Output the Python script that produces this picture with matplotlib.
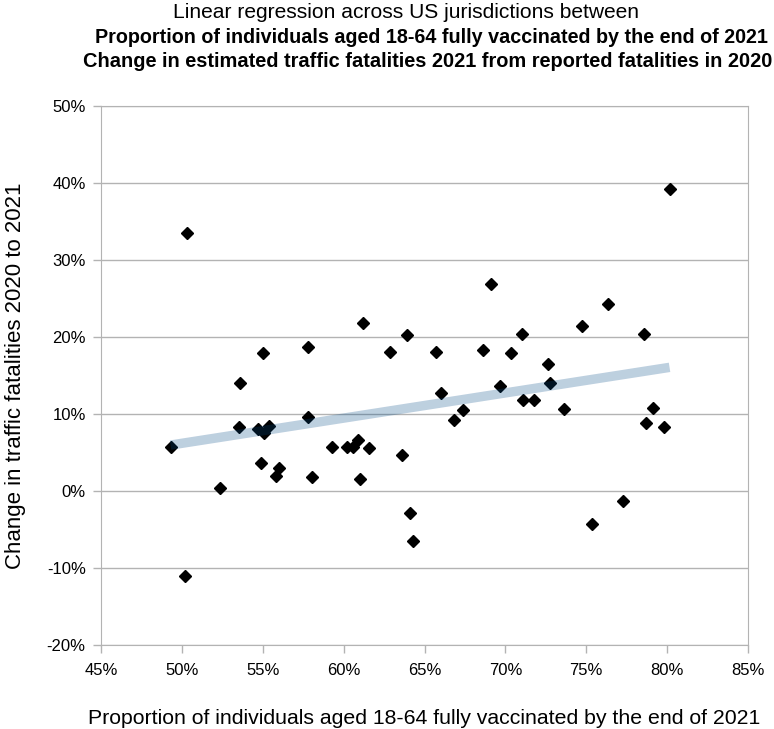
import numpy as np
import matplotlib
matplotlib.use('Agg')
import matplotlib.pyplot as plt
from matplotlib.ticker import PercentFormatter

plt.rcParams['font.family'] = ['Liberation Sans', 'DejaVu Sans']
plt.rcParams['axes.unicode_minus'] = False

# vaccinated share 18-64 (%) and change in traffic fatalities (%)
vax_pct = [49.3, 50.3, 50.2, 52.35, 53.6, 53.55, 54.7, 55.0, 55.05, 55.4,
           54.9, 55.8, 56.0, 57.8, 57.8, 58.05, 59.3, 60.2, 60.6, 60.9,
           61.55, 61.0, 61.2, 62.85, 63.9, 63.6, 64.1, 64.3, 65.7, 66.0,
           66.8, 67.4, 68.6, 69.1, 69.65, 70.35, 71.0, 71.1, 71.75, 72.65,
           72.75, 73.65, 74.75, 75.35, 76.35, 77.25, 78.6, 78.7, 79.1, 79.8,
           80.15]
fatal_change = [5.7, 33.6, -11.0, 0.4, 14.1, 8.3, 8.1, 17.9, 7.6, 8.5,
                3.7, 2.0, 3.0, 18.7, 9.7, 1.8, 5.8, 5.8, 5.7, 6.6,
                5.6, 1.6, 21.8, 18.1, 20.3, 4.7, -2.8, -6.4, 18.1, 12.8,
                9.3, 10.5, 18.3, 26.9, 13.7, 18.0, 20.4, 11.9, 11.8, 16.5,
                14.0, 10.7, 21.4, -4.3, 24.3, -1.2, 20.4, 8.9, 10.8, 8.3,
                39.3]

x = np.array(vax_pct)
y = np.array(fatal_change)
# least squares trend line
slope, icpt = np.polyfit(x, y, 1)
xfit = np.array([x.min(), x.max()])
yfit = slope * xfit + icpt

fig = plt.figure(figsize=(7.74, 7.29), dpi=100)
ax = fig.add_axes([0.1305, 0.1148, 0.8359, 0.7395])

ax.plot(x, y, 'D', color='black', markersize=6.3, zorder=3)
ax.plot(xfit, yfit, color='#004a87', alpha=0.26, linewidth=6.8,
        solid_capstyle='butt', zorder=4)

ax.set_xlim(45, 85)
ax.set_ylim(-20, 50)
ax.set_xticks(np.arange(45, 86, 5))
ax.set_yticks(np.arange(-20, 51, 10))
ax.xaxis.set_major_formatter(PercentFormatter(decimals=0))
ax.yaxis.set_major_formatter(PercentFormatter(decimals=0))
ax.yaxis.grid(True, color='#b3b3b3', linewidth=1)
ax.set_axisbelow(True)
for s in ax.spines.values():
    s.set_color('#b3b3b3')
ax.tick_params(axis='both', colors='#b3b3b3', labelcolor='black',
               labelsize=12, length=6, width=1)
ax.tick_params(axis='x', pad=7)
ax.tick_params(axis='y', pad=5)

ax.set_xlabel('Proportion of individuals aged 18-64 fully vaccinated by the end of 2021',
              fontsize=15.3, labelpad=22)
ax.set_ylabel('Change in traffic fatalities 2020 to 2021', fontsize=16, labelpad=15)

fig.text(0.524, 0.9835, 'Linear regression across US jurisdictions between',
         ha='center', va='center', fontsize=15.1)
fig.text(0.558, 0.948, 'Proportion of individuals aged 18-64 fully vaccinated by the end of 2021',
         ha='center', va='center', fontsize=14.2, fontweight='bold')
fig.text(0.553, 0.915, 'Change in estimated traffic fatalities 2021 from reported fatalities in 2020',
         ha='center', va='center', fontsize=14.4, fontweight='bold')

fig.savefig('out.png', dpi=100)
